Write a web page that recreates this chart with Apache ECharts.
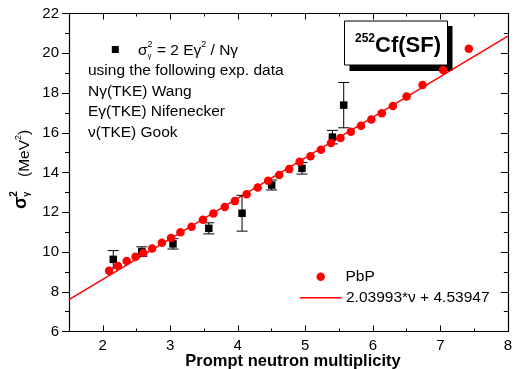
<!DOCTYPE html>
<html>
<head>
<meta charset="utf-8">
<script src="https://cdn.jsdelivr.net/npm/echarts@6/dist/echarts.min.js"></script>
<style>
  html, body { margin: 0; padding: 0; background: #fff; }
  #chart { width: 515px; height: 369px; }
</style>
</head>
<body>
<div id="chart"></div>
<script>
// Point-by-point (PbP) model: gamma energy variance vs prompt neutron multiplicity
const pbpNu = [2.094, 2.224, 2.355, 2.485, 2.601, 2.731, 2.876, 3.011, 3.151, 3.315, 3.484,
  3.639, 3.807, 3.957, 4.131, 4.295, 4.450, 4.613, 4.762, 4.917, 5.077, 5.232, 5.381,
  5.521, 5.675, 5.825, 5.979, 6.133, 6.297, 6.500, 6.737, 7.041, 7.422];
const pbpSigma2 = [9.06, 9.29, 9.55, 9.76, 9.95, 10.18, 10.47, 10.70, 10.99, 11.27, 11.62,
  11.94, 12.26, 12.56, 12.90, 13.25, 13.58, 13.87, 14.17, 14.54, 14.82, 15.15, 15.48,
  15.74, 16.05, 16.35, 16.67, 16.98, 17.35, 17.82, 18.40, 19.16, 20.23];

// Values derived from experimental data (Wang, Nifenecker, Gook)
const expNu = [2.156, 2.579, 3.040, 3.571, 4.063, 4.502, 4.951, 5.402, 5.569];
const expSigma2 = [9.63, 10.02, 10.41, 11.19, 11.95, 13.37, 14.21, 15.78, 17.39];
const expErr = [0.44, 0.24, 0.26, 0.28, 0.90, 0.25, 0.29, 0.34, 1.14];

// Linear fit of the PbP results
const fitSlope = 2.03993;
const fitIntercept = 4.53947;
const fitNuRange = [1.5, 8];

// Axis ticks
const xMajorTicks = [2, 3, 4, 5, 6, 7, 8];
const yTicks = [6, 8, 10, 12, 14, 16, 18, 20, 22];

const FONT = "'Liberation Sans', Arial, Helvetica, sans-serif";
const measureCtx = document.createElement('canvas').getContext('2d');
function textWidth(t, size, weight) {
  measureCtx.font = (weight || 'normal') + ' ' + size + 'px ' + FONT;
  return measureCtx.measureText(t).width;
}

// Lays out a run of text pieces (with sub/superscripts) left to right in one group
function inlineText(parts, x, y, extra) {
  let cx = 0, prevStart = 0;
  const children = parts.map(p => {
    const start = p.stack ? prevStart : cx;
    const w = textWidth(p.t, p.size, p.weight);
    cx = Math.max(cx, start + w);
    prevStart = start;
    return {
      type: 'text', x: start, y: p.dy || 0,
      style: {
        text: p.t, fontSize: p.size, fontWeight: p.weight || 'normal', fontFamily: FONT,
        fill: '#000', align: 'left', textAlign: 'left',
        verticalAlign: 'middle', textVerticalAlign: 'middle'
      }
    };
  });
  return Object.assign({ type: 'group', x: x, y: y, children: children }, extra || {});
}

const chart = echarts.init(document.getElementById('chart'), null, { renderer: 'canvas' });

const axisLine = { show: true, lineStyle: { color: '#000', width: 1.2 } };
const grid = { left: 69, right: -3, top: 13.5, bottom: 37.5, containLabel: false };

const fitData = fitNuRange.map(v => [v, fitSlope * v + fitIntercept]);
const errData = expNu.map((v, i) => [v, expSigma2[i] - expErr[i], expSigma2[i] + expErr[i]]);

const option = {
  animation: false,
  backgroundColor: '#fff',
  grid: grid,
  xAxis: [
    { // main bottom axis: labels and integer ticks
      type: 'value', position: 'bottom', min: 1.5, max: 8,
      axisLine: axisLine,
      axisTick: { show: true, inside: true, length: 6, customValues: xMajorTicks, lineStyle: { color: '#000' } },
      axisLabel: { show: true, customValues: xMajorTicks, margin: 7, fontSize: 15, fontFamily: FONT, color: '#000' },
      splitLine: { show: false }
    },
    { // bottom half-unit ticks
      type: 'value', position: 'bottom', min: 1.5, max: 8, interval: 0.5,
      axisLine: { show: false },
      axisTick: { show: true, inside: true, length: 3, lineStyle: { color: '#000' } },
      axisLabel: { show: false }, splitLine: { show: false }
    },
    { // top mirror axis
      type: 'value', position: 'top', min: 1.5, max: 8,
      axisLine: axisLine,
      axisTick: { show: true, inside: true, length: 6, customValues: xMajorTicks, lineStyle: { color: '#000' } },
      axisLabel: { show: false }, splitLine: { show: false }
    },
    {
      type: 'value', position: 'top', min: 1.5, max: 8, interval: 0.5,
      axisLine: { show: false },
      axisTick: { show: true, inside: true, length: 3, lineStyle: { color: '#000' } },
      axisLabel: { show: false }, splitLine: { show: false }
    }
  ],
  yAxis: [
    {
      type: 'value', position: 'left', min: yTicks[0], max: yTicks[yTicks.length - 1], interval: 2,
      axisLine: axisLine,
      axisTick: { show: true, inside: false, length: 7, lineStyle: { color: '#000' } },
      minorTick: { show: true, splitNumber: 2, length: 4, lineStyle: { color: '#000' } },
      axisLabel: { show: true, margin: 10, fontSize: 15, fontFamily: FONT, color: '#000' },
      splitLine: { show: false }, minorSplitLine: { show: false }
    },
    {
      type: 'value', position: 'right', min: yTicks[0], max: yTicks[yTicks.length - 1], interval: 2,
      axisLine: axisLine,
      axisTick: { show: true, inside: true, length: 7, lineStyle: { color: '#000' } },
      minorTick: { show: true, splitNumber: 2, length: 4, lineStyle: { color: '#000' } },
      axisLabel: { show: false },
      splitLine: { show: false }, minorSplitLine: { show: false }
    }
  ],
  series: [
    {
      name: 'fit', type: 'line', data: fitData, showSymbol: false, symbol: 'none',
      lineStyle: { color: '#ff0000', width: 1.5 }, z: 2
    },
    {
      name: 'errors', type: 'custom', data: errData, z: 3,
      renderItem: function (params, api) {
        const lo = api.coord([api.value(0), api.value(1)]);
        const hi = api.coord([api.value(0), api.value(2)]);
        const hw = 5.5;
        const style = { stroke: '#000', lineWidth: 1 };
        return {
          type: 'group',
          children: [
            { type: 'line', shape: { x1: lo[0], y1: lo[1], x2: hi[0], y2: hi[1] }, style: style },
            { type: 'line', shape: { x1: lo[0] - hw, y1: lo[1], x2: lo[0] + hw, y2: lo[1] }, style: style },
            { type: 'line', shape: { x1: hi[0] - hw, y1: hi[1], x2: hi[0] + hw, y2: hi[1] }, style: style }
          ]
        };
      }
    },
    {
      name: 'exp', type: 'scatter', data: expNu.map((v, i) => [v, expSigma2[i]]),
      symbol: 'rect', symbolSize: 7.5, itemStyle: { color: '#000', opacity: 1 }, z: 4
    },
    {
      name: 'PbP', type: 'scatter', data: pbpNu.map((v, i) => [v, pbpSigma2[i]]),
      symbol: 'circle', symbolSize: 8.5, itemStyle: { color: '#ff0000', opacity: 1 }, z: 5
    }
  ],
  graphic: [
    // formula block, top left
    { type: 'rect', shape: { x: 111.8, y: 46, width: 7, height: 7 }, style: { fill: '#000' } },
    inlineText([
      { t: '\u03c3', size: 15.5 },
      { t: '\u03b3', size: 8, dy: 5 },
      { t: '2', size: 9, dy: -6, stack: true },
      { t: ' = 2 E\u03b3', size: 15.5 },
      { t: '2', size: 9, dy: -6 },
      { t: ' / N\u03b3', size: 15.5 }
    ], 138, 51),
    inlineText([{ t: 'using the following exp. data', size: 15.5 }], 88, 71),
    inlineText([{ t: 'N\u03b3(TKE) Wang', size: 15.5 }], 88, 91.5),
    inlineText([{ t: 'E\u03b3(TKE) Nifenecker', size: 15.5 }], 88, 112),
    inlineText([{ t: '\u03bd(TKE) Gook', size: 15.5 }], 88, 132.5),

    // nucleus box with drop shadow
    { type: 'rect', shape: { x: 349.5, y: 26, width: 103, height: 45 }, style: { fill: '#000' } },
    { type: 'rect', shape: { x: 344.5, y: 21, width: 103, height: 44 }, style: { fill: '#fff', stroke: '#000', lineWidth: 1 } },
    inlineText([
      { t: '252', size: 12, weight: 'bold', dy: -7 },
      { t: 'Cf(SF)', size: 22, weight: 'bold' }
    ], 355, 46),

    // bottom legend
    { type: 'circle', shape: { cx: 320.7, cy: 276.7, r: 4.25 }, style: { fill: '#ff0000' } },
    inlineText([{ t: 'PbP', size: 15.5 }], 345.5, 276.5),
    { type: 'line', shape: { x1: 300, y1: 297.7, x2: 341.7, y2: 297.7 }, style: { stroke: '#ff0000', lineWidth: 1.5 } },
    inlineText([{ t: '2.03993*\u03bd + 4.53947', size: 15.5 }], 346, 297.5),

    // axis titles
    inlineText([
      { t: '\u03c3', size: 18, weight: 'bold' },
      { t: '\u03b3', size: 9, weight: 'bold', dy: 6 },
      { t: '2', size: 10, weight: 'bold', dy: -7, stack: true }
    ], 21, 209, { rotation: Math.PI / 2 }),
    inlineText([
      { t: '(MeV', size: 15.5 },
      { t: '2', size: 9, dy: -6 },
      { t: ')', size: 15.5 }
    ], 25, 177, { rotation: Math.PI / 2 }),
    {
      type: 'text', x: 293, y: 361,
      style: {
        text: 'Prompt neutron multiplicity', fontSize: 16.5, fontWeight: 'bold', fontFamily: FONT,
        fill: '#000', align: 'center', textAlign: 'center', verticalAlign: 'middle', textVerticalAlign: 'middle'
      }
    }
  ]
};

chart.setOption(option);
</script>
</body>
</html>
